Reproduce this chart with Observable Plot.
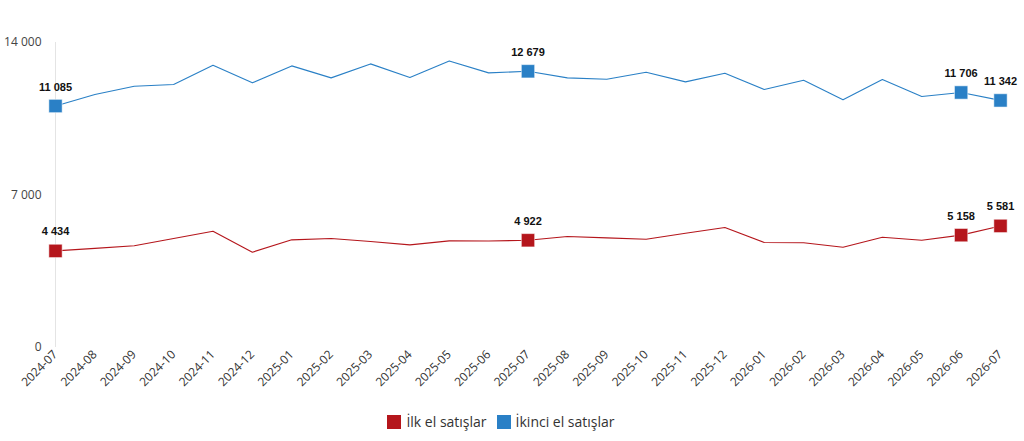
<!DOCTYPE html>
<html><head><meta charset="utf-8">
<script src="https://cdn.jsdelivr.net/npm/d3@7"></script>
<script src="https://cdn.jsdelivr.net/npm/@observablehq/plot@0.6"></script>
<style>
body{margin:0;background:#fff;font-family:"Open Sans",sans-serif;}
#legend{display:flex;justify-content:center;gap:10px;font-size:14px;color:#333;height:41px;align-items:center;margin-top:1px;padding-right:22px}
#legend span.sw{display:inline-block;width:14px;height:14px;margin-right:5px;vertical-align:-2px}
</style></head><body>
<div id="chart"></div>
<div id="legend"></div>
<script>
const months = ["2024-07","2024-08","2024-09","2024-10","2024-11","2024-12","2025-01","2025-02","2025-03","2025-04","2025-05","2025-06","2025-07","2025-08","2025-09","2025-10","2025-11","2025-12","2026-01","2026-02","2026-03","2026-04","2026-05","2026-06","2026-07"];
const firstHand = [4434,4550,4667,5002,5338,4374,4942,5002,4865,4712,4896,4890,4922,5094,5033,4972,5247,5507,4819,4810,4604,5063,4925,5158,5581];
const secondHand = [11085,11611,11993,12070,12957,12148,12926,12376,13018,12391,13155,12605,12679,12376,12314,12636,12192,12590,11840,12268,11367,12300,11519,11706,11342];
const seriesNames = ["İlk el satışlar","İkinci el satışlar"];
const seriesColors = ["#b5161c","#2a80c6"];
const highlighted = ["2024-07","2025-07","2026-06","2026-07"];
const yTicks = [0,7000,14000];

const fmt = d3.formatLocale({thousands:" ",grouping:[3],decimal:",",currency:["",""]}).format(",d");
const data = [];
months.forEach((m,i)=>{
  data.push({month:m, value:firstHand[i], series:seriesNames[0]});
  data.push({month:m, value:secondHand[i], series:seriesNames[1]});
});
const hl = data.filter(d=>highlighted.includes(d.month));

const chart = Plot.plot({
  width:1024, height:400,
  marginTop:42, marginBottom:53, marginLeft:55, marginRight:24,
  style:{fontFamily:"'Open Sans',sans-serif", fontSize:"11px", color:"#333"},
  x:{type:"point", domain:months, label:null, padding:0, round:false},
  y:{domain:[0,14000], label:null},
  color:{domain:seriesNames, range:seriesColors},
  marks:[
    Plot.ruleX([months[0]],{stroke:"#e4e4e4", y1:0, y2:14000}),
    Plot.ruleY([0],{stroke:"#e4e4e4", x1:months[0], x2:months[months.length-1]}),
    Plot.axisY({ticks:yTicks, tickSize:0, tickPadding:14, tickFormat:fmt, fill:"#444", fontSize:12}),
    Plot.axisX({tickSize:0, tickRotate:-45, tickPadding:5, fill:"#333", fontSize:12, textAnchor:"end"}),
    Plot.line(data,{x:"month", y:"value", z:"series", stroke:"series", strokeWidth:1.1}),
    Plot.dot(hl,{x:"month", y:"value", fill:"series", symbol:"square", r:7.5, stroke:"white", strokeWidth:0.5}),
    Plot.text(hl,{x:"month", y:"value", text:d=>fmt(d.value), dy:-19, fontWeight:"bold", fontSize:11, fill:"#111", fontFamily:"'Liberation Sans',Arial,sans-serif"})
  ]
});
document.getElementById("chart").appendChild(chart);
const lg = document.getElementById("legend");
seriesNames.forEach((n,i)=>{
  const item = document.createElement("div");
  item.innerHTML = `<span class="sw" style="background:${seriesColors[i]}"></span>${n}`;
  lg.appendChild(item);
});
</script>
</body></html>
